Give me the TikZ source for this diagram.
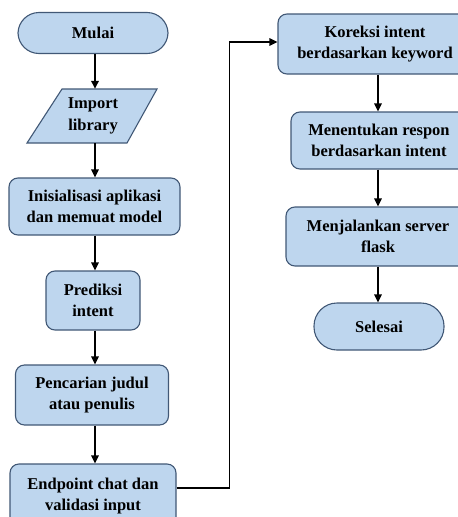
\documentclass[tikz,border=0pt]{standalone}
\usepackage{fontspec}
\setmainfont{Liberation Serif}
\usetikzlibrary{arrows.meta}
\definecolor{boxfill}{RGB}{190,214,238}
\definecolor{boxline}{RGB}{65,88,118}
\tikzset{
  box/.style={draw=boxline, fill=boxfill, line width=1.1pt, rounded corners=9pt,
    align=center, inner sep=0pt, font=\bfseries\fontsize{16.5}{21.5}\selectfont},
  term/.style={box, rounded corners=21pt},
  plain/.style={align=center, inner sep=0pt, font=\bfseries\fontsize{16.5}{21.5}\selectfont},
  arr/.style={line width=1.6pt, -{Triangle[length=8pt,width=7.5pt]}}
}
\begin{document}
\begin{tikzpicture}[x=1pt,y=-1pt]
\useasboundingbox (0,0) rectangle (458,517);
\fill[white] (0,0) rectangle (458,517);
\clip (0,0) rectangle (458,517);
% left column
\node[term, minimum width=150pt, minimum height=41pt] (mulai) at (93,33) {Mulai};
\path[draw=boxline, fill=boxfill, line width=1.1pt] (27,143) -- (127,143) -- (157,89) -- (62,89) -- cycle;
\node[plain, minimum width=96pt, minimum height=54pt] (imp) at (93,116) {Import\\library};
\node[box, minimum width=171pt, minimum height=57pt] (init) at (94.5,206.5) {Inisialisasi aplikasi\\dan memuat model};
\node[box, minimum width=94pt, minimum height=59pt] (pred) at (93,300.5) {Prediksi\\intent};
\node[box, minimum width=153pt, minimum height=60pt] (penc) at (92,395) {Pencarian judul\\atau penulis};
\node[box, minimum width=166pt, minimum height=64pt] (ep) at (93,496) {Endpoint chat dan\\validasi input};
% right column
\node[box, minimum width=194pt, minimum height=60pt] (kor) at (375,44) {Koreksi intent\\berdasarkan keyword};
\node[box, minimum width=176pt, minimum height=57pt] (ment) at (379,140.5) {Menentukan respon\\berdasarkan intent};
\node[box, minimum width=184pt, minimum height=59pt] (menj) at (378,236.5) {Menjalankan server\\flask};
\node[term, minimum width=130pt, minimum height=47pt, rounded corners=23pt] (sel) at (379,326.5) {Selesai};
% arrows
\draw[arr] (mulai.south -| 95,0) -- (imp.north -| 95,0);
\draw[arr] (imp.south -| 95,0) -- (init.north -| 95,0);
\draw[arr] (init.south -| 95,0) -- (pred.north -| 95,0);
\draw[arr] (pred.south -| 95,0) -- (penc.north -| 95,0);
\draw[arr] (penc.south -| 95,0) -- (ep.north -| 95,0);
\draw[arr] ([yshift=8pt]ep.east) -- ++(53,0) |- ([yshift=2pt]kor.west);
\draw[arr] (kor.south -| 378,0) -- (ment.north -| 378,0);
\draw[arr] (ment.south -| 378,0) -- (menj.north -| 378,0);
\draw[arr] (menj.south -| 378,0) -- (sel.north -| 378,0);
\end{tikzpicture}
\end{document}
